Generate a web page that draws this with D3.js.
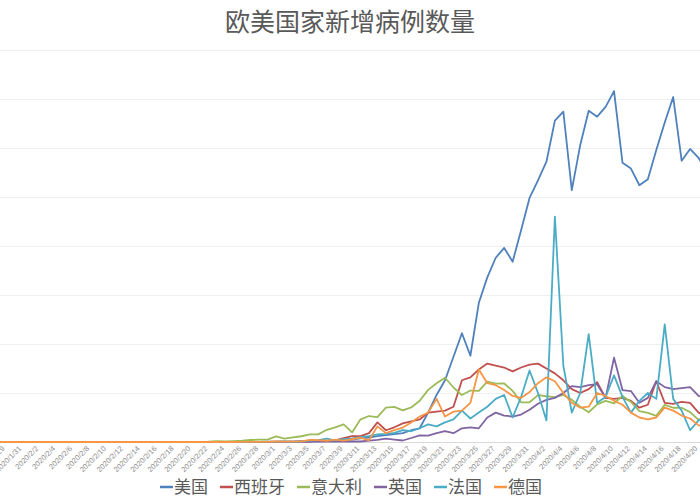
<!DOCTYPE html>
<html><head><meta charset="utf-8">
<script src="https://cdn.jsdelivr.net/npm/d3@7/dist/d3.min.js"></script>
<style>html,body{margin:0;padding:0;background:#fff;overflow:hidden}</style>
</head><body>
<svg id="chart" width="700" height="500"></svg>
<script>
const categories = [
"2020/1/21","2020/1/22","2020/1/23","2020/1/24","2020/1/25","2020/1/26","2020/1/27","2020/1/28","2020/1/29","2020/1/30",
"2020/1/31","2020/2/1","2020/2/2","2020/2/3","2020/2/4","2020/2/5","2020/2/6","2020/2/7","2020/2/8","2020/2/9",
"2020/2/10","2020/2/11","2020/2/12","2020/2/13","2020/2/14","2020/2/15","2020/2/16","2020/2/17","2020/2/18","2020/2/19",
"2020/2/20","2020/2/21","2020/2/22","2020/2/23","2020/2/24","2020/2/25","2020/2/26","2020/2/27","2020/2/28","2020/2/29",
"2020/3/1","2020/3/2","2020/3/3","2020/3/4","2020/3/5","2020/3/6","2020/3/7","2020/3/8","2020/3/9","2020/3/10",
"2020/3/11","2020/3/12","2020/3/13","2020/3/14","2020/3/15","2020/3/16","2020/3/17","2020/3/18","2020/3/19","2020/3/20",
"2020/3/21","2020/3/22","2020/3/23","2020/3/24","2020/3/25","2020/3/26","2020/3/27","2020/3/28","2020/3/29","2020/3/30",
"2020/3/31","2020/4/1","2020/4/2","2020/4/3","2020/4/4","2020/4/5","2020/4/6","2020/4/7","2020/4/8","2020/4/9",
"2020/4/10","2020/4/11","2020/4/12","2020/4/13","2020/4/14","2020/4/15","2020/4/16","2020/4/17","2020/4/18","2020/4/19",
"2020/4/20","2020/4/21"];

const seriesNames = ["美国","西班牙","意大利","英国","法国","德国"];

const usValues = [
1,0,0,1,0,2,0,0,0,0,
1,1,0,3,0,0,1,0,0,0,
1,0,1,0,0,0,0,0,0,0,
0,2,0,0,0,0,0,0,3,8,
10,20,25,30,60,70,100,120,180,250,
370,440,600,700,800,900,1200,1400,3000,4800,
6300,8700,11100,8800,14200,16800,18800,19800,18400,21600,
24900,26700,28600,32800,33700,25700,30300,33800,33200,34200,
35800,28500,27900,26200,26800,29800,32600,35200,28700,29900,
29000,27500];

const spainValues = [
0,0,0,0,0,0,0,0,0,0,
0,1,0,0,0,0,0,0,0,1,
0,0,0,0,0,0,0,0,0,0,
0,0,0,0,0,4,3,3,17,13,
39,36,45,57,37,141,100,173,400,600,
600,900,2000,1200,1500,1900,2100,2300,3000,3100,
3200,3600,6300,6600,7400,8000,7800,7600,7200,7600,
7900,8000,7500,7000,6300,5400,5000,5400,6100,4500,
4400,4500,4200,3500,3800,6200,4000,3900,4100,4000,
3000,2600];

const italyValues = [
0,0,0,0,0,0,0,0,0,0,
2,0,0,0,0,0,1,0,0,0,
0,0,0,0,0,0,0,0,0,0,
0,17,42,93,74,93,131,202,233,240,
566,342,466,587,769,778,1247,1492,1797,977,
2313,2651,2547,3497,3590,3233,3526,4207,5322,5986,
6557,5560,4789,5249,5210,6153,5959,5974,5217,4050,
4053,4782,4668,4585,4805,4316,3599,3039,3836,4204,
3951,4694,4092,3153,2972,2667,3786,3493,3491,3047,
2256,2729];

const ukValues = [
0,0,0,0,0,0,0,0,0,0,
2,0,0,0,0,0,1,0,0,0,
5,0,1,0,0,0,0,0,0,0,
0,0,0,0,4,0,0,0,7,3,
12,4,11,34,30,48,43,67,48,61,
50,130,208,342,251,152,407,676,643,900,
1100,900,1400,1500,1400,2500,3000,2700,2600,2800,
3300,3900,4300,4500,5000,5700,5600,5800,5900,4500,
8600,5300,5200,4000,4500,6200,5600,5400,5500,5600,
4700,4500];

const franceValues = [
0,0,0,3,0,0,0,0,1,0,
1,0,0,0,0,0,0,0,5,0,
0,0,0,0,0,1,0,0,0,0,
0,0,0,0,0,2,2,20,19,43,
30,61,21,73,138,190,336,177,286,372,
497,595,785,838,924,1210,1097,1404,1800,1600,
2000,2300,3200,2400,3000,3600,4400,4800,2500,4600,
7300,5000,2200,23000,7800,3000,5000,11000,4000,4600,
6800,4600,3000,4200,5000,4400,12000,4400,3200,1200,
2200,2600];

const germanyValues = [
0,0,0,0,0,0,1,3,0,0,
1,2,0,2,2,0,1,1,0,0,
1,0,0,0,0,0,0,0,0,0,
0,0,0,0,0,2,6,21,8,13,
51,29,37,66,220,188,129,241,136,281,
451,170,1597,910,1210,1477,1985,2600,3000,4400,
2600,3100,3200,4000,7400,6000,5800,5300,4700,4500,
5100,6000,6600,6200,5000,4000,3500,3600,5000,4700,
4200,3800,3000,2500,2300,2500,3500,3200,2700,2400,
1700,1500];

const yTicks = [0,5000,10000,15000,20000,25000,30000,35000,40000];
const titleText = "欧美国家新增病例数量";

const allSeries = [usValues, spainValues, italyValues, ukValues, franceValues, germanyValues];
const colors = ["#4F81BD","#C0504D","#9BBB59","#8064A2","#4BACC6","#F79646"];
const cjk = "'Noto Sans CJK SC', 'Noto Sans', sans-serif";

const svg = d3.select("#chart");
const x = d3.scalePoint().domain(categories).range([-62, 707]);
const y = d3.scaleLinear().domain([0, 40000]).range([442, 50]);

// gridlines
const grid = svg.append("g").attr("transform", "translate(-80,0)")
  .call(d3.axisLeft(y).tickValues(yTicks).tickSize(-880).tickFormat(""));
grid.select(".domain").remove();
grid.selectAll(".tick line").attr("stroke", d => d === 0 ? "#d9d9d9" : "#efefef").attr("stroke-width", 1);

// x axis
const labeled = categories.filter((d, i) => i % 2 === 0 && x(d) > -5 && x(d) < 705);
const xa = svg.append("g").attr("transform", "translate(0,442)")
  .call(d3.axisBottom(x).tickValues(labeled).tickSize(0));
xa.select(".domain").remove();
xa.selectAll(".tick text")
  .attr("font-family", "'Liberation Sans', Arial, sans-serif")
  .attr("font-size", 7.5)
  .attr("fill", "#8c8c8c")
  .attr("text-anchor", "end")
  .attr("y", 0).attr("dy", 0)
  .attr("transform", "translate(-1,7) rotate(-45)");

// lines
const line = d3.line().x((d, i) => x(categories[i])).y(d => y(d));
svg.append("g").selectAll("path").data(allSeries).join("path")
  .attr("d", d => line(d))
  .attr("fill", "none")
  .attr("stroke", (d, i) => colors[i])
  .attr("stroke-width", 1.8)
  .attr("stroke-linejoin", "round");

// title
svg.append("text").attr("x", 350).attr("y", 31)
  .attr("text-anchor", "middle")
  .attr("font-family", cjk).attr("font-size", 25)
  .attr("fill", "#595959").text(titleText);

// legend
const legend = svg.append("g");
let lx = 0;
seriesNames.forEach((name, i) => {
  const g = legend.append("g").attr("transform", `translate(${lx},0)`);
  g.append("line").attr("x1", 0).attr("x2", 13).attr("y1", 0).attr("y2", 0)
    .attr("stroke", colors[i]).attr("stroke-width", 2.5);
  const t = g.append("text").attr("x", 14).attr("y", 6)
    .attr("font-family", cjk).attr("font-size", 17).attr("fill", "#595959").text(name);
  const w = t.node().getComputedTextLength();
  lx += 14 + w + 12;
});
const totalW = lx - 12;
legend.attr("transform", `translate(${351 - totalW / 2},487)`);
</script>
</body></html>
